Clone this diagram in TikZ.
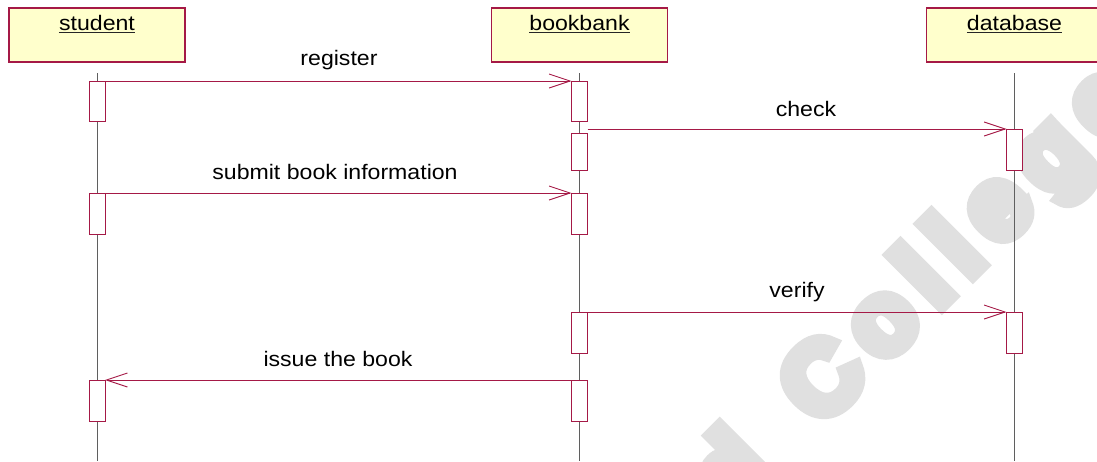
\documentclass[tikz,border=0pt]{standalone}
\usepackage{fontspec}
\setmainfont{Liberation Sans}[FakeStretch=1.1]
\newfontfamily\wmfont{Liberation Sans Bold}[LetterSpace=16, FakeBold=13]
\newfontfamily\wmfontd{Liberation Sans Bold}[FakeBold=13]
\usetikzlibrary{arrows.meta}
\definecolor{umlred}{RGB}{165,25,70}
\definecolor{objfill}{RGB}{255,255,204}
\definecolor{lifegray}{RGB}{95,95,95}
\definecolor{wmgray}{RGB}{224,224,224}

% one activation bar: name, x, top y, bottom y
\newcommand\actbar[4]{\node[actbox, minimum height={(#4)-(#3)}] (#1) at (#2,{((#3)+(#4))/2}) {};}

\begin{document}
\begin{tikzpicture}[x=1pt,y=-1pt,
  objbox/.style={draw=umlred, fill=objfill, line width=1.1pt, minimum width=176pt, minimum height=54pt, inner sep=0pt, outer sep=0pt},
  objname/.style={inner sep=0pt, font=\fontsize{21}{24}\selectfont},
  uline/.style={line width=0.9pt, black!85},
  lifeline/.style={draw=lifegray, line width=0.9pt},
  actbox/.style={draw=umlred, fill=white, line width=1pt, minimum width=16pt, inner sep=0pt, outer sep=0pt},
  msg/.style={draw=umlred, line width=0.9pt, -{Straight Barb[length=21pt,width=14pt]}},
  msglbl/.style={inner sep=0pt, font=\fontsize{21}{24}\selectfont},
  wm/.style={inner sep=0pt, text=wmgray, font=\wmfont\fontsize{100}{100}\selectfont},
  wmd/.style={inner sep=0pt, text=wmgray, font=\wmfontd\fontsize{100}{100}\selectfont}
]
\useasboundingbox (0,0) rectangle (1097,461);
\clip (0,0) rectangle (1097,461);
\fill[white] (0,0) rectangle (1097,461);

% watermark
\node[wm, rotate=45, anchor=base west] (wmword) at (820,428) {College};
\node[wmd, rotate=45, anchor=base east] (wmletter) at (776,472) {d};

% lifeline objects
\node[objbox] (student) at (97,35) {};
\node[objbox] (bookbank) at (579.5,35) {};
\node[objbox] (database) at (1014.5,35) {};

\node[objname, anchor=base] (studentname) at (97,30.5) {student};
\node[objname, anchor=base] (bookbankname) at (579.5,30.5) {bookbank};
\node[objname, anchor=base] (databasename) at (1014.5,30.5) {database};
\foreach \n in {studentname,bookbankname,databasename}
  \draw[uline] ([yshift=-2pt]\n.base west) -- ([yshift=-2pt]\n.base east);

% lifelines
\coordinate (sTop) at (97,73);     \coordinate (sEnd) at (97,461);
\coordinate (bTop) at (579.5,73);  \coordinate (bEnd) at (579.5,461);
\coordinate (dTop) at (1014.5,73); \coordinate (dEnd) at (1014.5,461);
\draw[lifeline] (sTop) -- (sEnd);
\draw[lifeline] (bTop) -- (bEnd);
\draw[lifeline] (dTop) -- (dEnd);

% activation bars
\actbar{s1}{97}{81}{121}
\actbar{s2}{97}{193}{234}
\actbar{s3}{97}{380}{421}
\actbar{b1}{579.5}{81}{121}
\actbar{b2}{579.5}{133}{170}
\actbar{b3}{579.5}{193}{234}
\actbar{b4}{579.5}{312}{353}
\actbar{b5}{579.5}{380}{421}
\actbar{d1}{1014.5}{129}{170}
\actbar{d2}{1014.5}{312}{353}

% messages
\draw[msg] (s1.north east) -- (b1.north west);
\draw[msg] (b2.east |- d1.north) -- (d1.north west);
\draw[msg] (s2.north east) -- (b3.north west);
\draw[msg] (b4.north east) -- (d2.north west);
\draw[msg] (b5.north west) -- (s3.north east);

\node[msglbl, anchor=base] (lreg) at (339,65) {register};
\node[msglbl, anchor=base] (lchk) at (806,116) {check};
\node[msglbl, anchor=base] (lsub) at (335,179) {submit book information};
\node[msglbl, anchor=base] (lver) at (797,297) {verify};
\node[msglbl, anchor=base] (liss) at (338,366) {issue the book};
\end{tikzpicture}
\end{document}
